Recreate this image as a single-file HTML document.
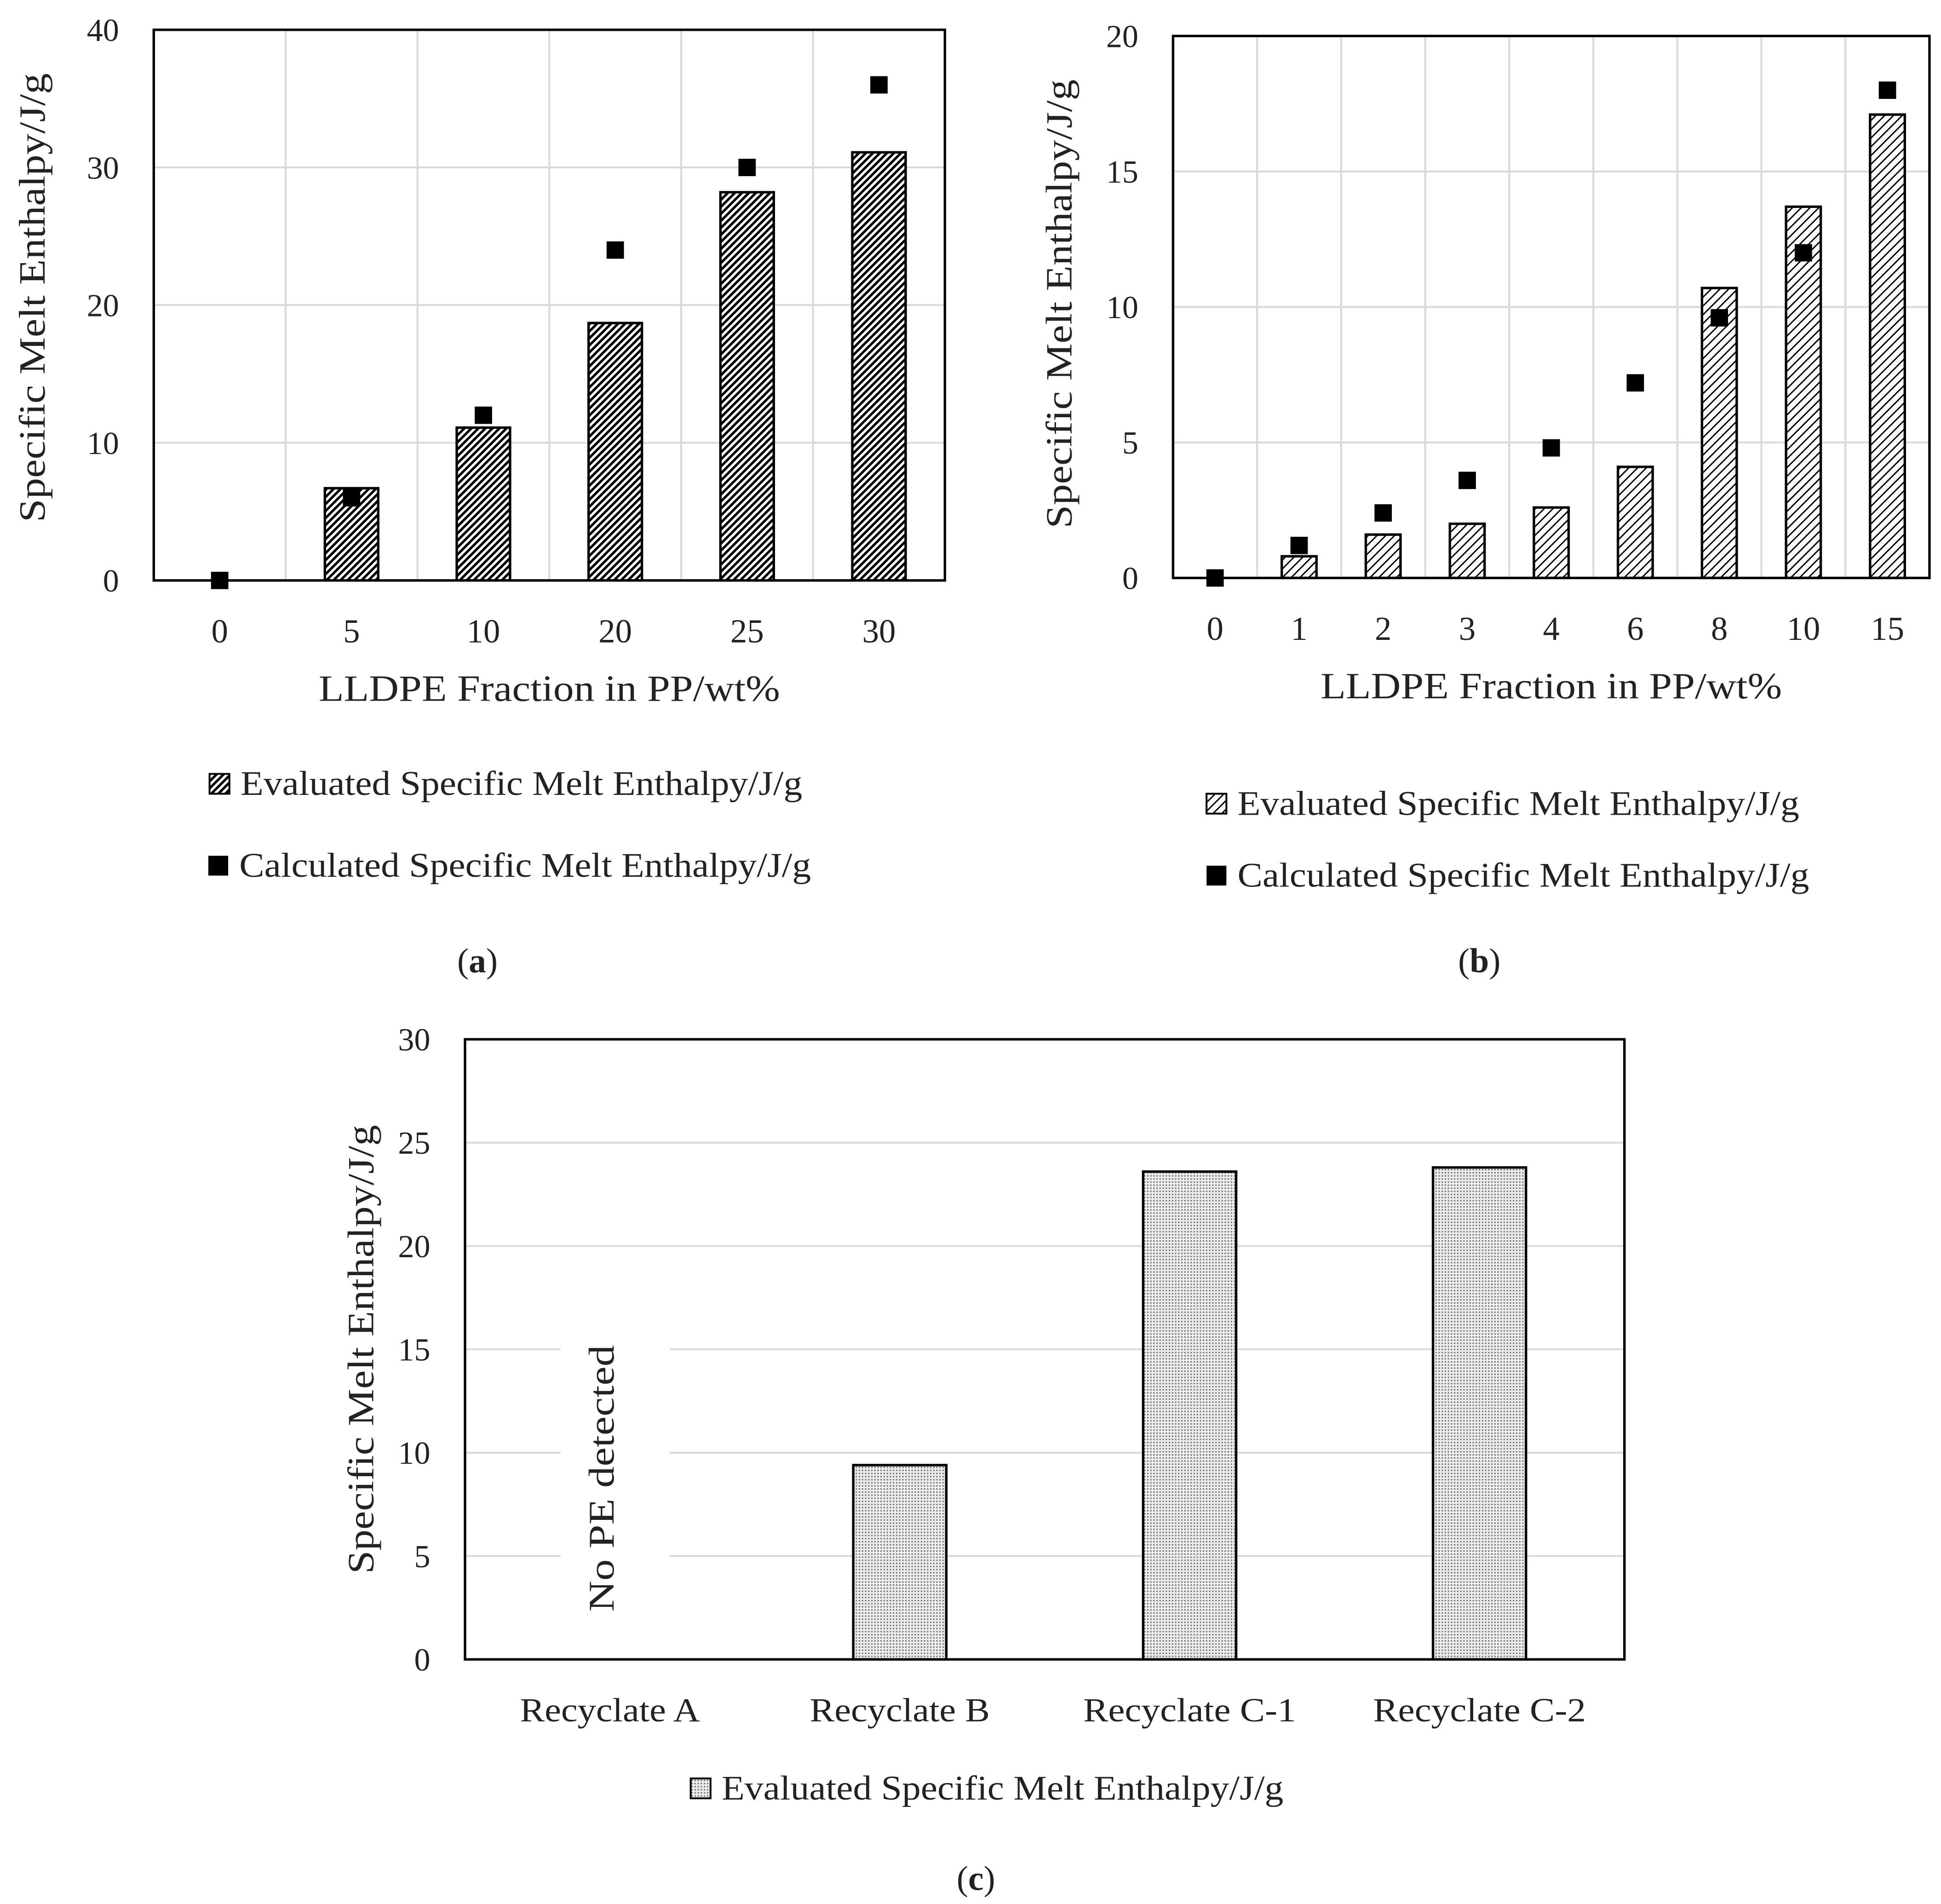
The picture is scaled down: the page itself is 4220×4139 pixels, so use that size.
<!DOCTYPE html>
<html><head><meta charset="utf-8"><style>
html,body{margin:0;padding:0;background:#fff}
svg{display:block}
text{font-family:"Liberation Serif",serif;fill:#222}
</style></head><body>
<svg id="s" width="4220" height="4139" viewBox="0 0 1565.3 1535.2" xmlns="http://www.w3.org/2000/svg">
<defs>
<pattern id="hA" width="4" height="4" patternUnits="userSpaceOnUse" patternTransform="rotate(45)"><rect width="4" height="4" fill="#fff"/><rect width="2" height="4" fill="#000"/></pattern>
<pattern id="hB" width="5" height="5" patternUnits="userSpaceOnUse" patternTransform="rotate(45)"><rect width="5" height="5" fill="#fff"/><rect width="1.1" height="5" fill="#000"/></pattern>
<pattern id="dC" width="2.5" height="2.5" patternUnits="userSpaceOnUse"><rect width="2.5" height="2.5" fill="#eee"/><rect width="1.2" height="1.2" fill="#777"/></pattern>
</defs>
</svg>
<script>
const catsA=["0","5","10","20","25","30"];
const barsA=[0,6.7,11.1,18.7,28.2,31.1];
const ptsA=[0,6,12,24,30,36];
const ticksA=[0,10,20,30,40];
const catsB=["0","1","2","3","4","6","8","10","15"];
const barsB=[0,0.8,1.6,2.0,2.6,4.1,10.7,13.7,17.1];
const ptsB=[0,1.2,2.4,3.6,4.8,7.2,9.6,12,18];
const ticksB=[0,5,10,15,20];
const catsC=["Recyclate A","Recyclate B","Recyclate C-1","Recyclate C-2"];
const barsC=[0,9.4,23.6,23.8];
const ticksC=[0,5,10,15,20,25,30];

const svg=document.getElementById('s');
const NS="http://www.w3.org/2000/svg";
function mk(tag,attrs,parent){const e=document.createElementNS(NS,tag);for(const k in attrs)e.setAttribute(k,attrs[k]);(parent||svg).appendChild(e);return e;}
function txt(str,attrs,parent){const e=mk('text',attrs,parent);e.textContent=str;return e;}
const SA='spacingAndGlyphs';

function panel(o){
  const g=mk('g',{});
  
  
  const n=o.cats.length, cw=(o.R-o.L)/n, max=o.ticks[o.ticks.length-1];
  const y=v=>o.B-(v/max)*(o.B-o.T);
  const x=i=>o.L+cw*(i+0.5);
  o.ticks.forEach(t=>{
    if(t>0&&t<max){
      const gl=mk('line',{x1:o.L,x2:o.R,y1:y(t),y2:y(t),stroke:'#d9d9d9','stroke-width':1.5},g);
      
      
    }
    const tl=txt(String(t),{x:o.L-28,y:y(t)+9,'font-size':26,'text-anchor':'end'},g);
    
    
  });
  if(o.vgrid){for(let i=1;i<n;i++){
    const vl=mk('line',{x1:o.L+cw*i,x2:o.L+cw*i,y1:o.T,y2:o.B,stroke:'#d9d9d9','stroke-width':1.5},g);
    
    
  }}
  if(o.note){
    mk('rect',{x:452,y:y(16),width:88,height:o.B-y(16)-2,fill:'#fff'},g);
    const nt=txt(o.note,{x:0,y:0,'font-size':29,'text-anchor':'middle',textLength:215,lengthAdjust:SA,transform:`translate(${x(0)+3},1192) rotate(-90)`},g);
    
    
  }
  o.bars.forEach((v,i)=>{
    if(v<=0)return;
    const b=mk('rect',{x:x(i)-o.bw/2,y:y(v),width:o.bw,height:o.B-y(v),fill:o.fill,stroke:'#000','stroke-width':2},g);
    
    
  });
  if(o.pts){o.pts.forEach((v,i)=>{
    const p=mk('rect',{x:x(i)-7,y:y(v)-7,width:14,height:14,fill:'#000'},g);
    
    
  });}
  const fr=mk('rect',{x:o.L,y:o.T,width:o.R-o.L,height:o.B-o.T,fill:'none',stroke:'#000','stroke-width':2},g);
  
  
  o.cats.forEach((c,i)=>{
    const a={x:x(i),y:o.B+50,'font-size':27,'text-anchor':'middle'};
    if(c.length>3){a.textLength=c.length*13.2;a.lengthAdjust=SA;}
    const xl=txt(c,a,g);
    
    
  });
  if(o.xtitle){const xt=txt(o.xtitle,{x:(o.L+o.R)/2,y:o.B+97,'font-size':30,'text-anchor':'middle',textLength:372,lengthAdjust:SA},g);
    
    }
  const yt=txt('Specific Melt Enthalpy/J/g',{x:0,y:0,'font-size':30,'text-anchor':'middle',textLength:362,lengthAdjust:SA,transform:`translate(${o.ytx},${o.yty}) rotate(-90)`},g);
  
  
  o.legend.forEach(l=>{
    const sw=mk('rect',{x:l.x-8,y:l.y-8,width:16,height:16,fill:l.fill,stroke:'#000','stroke-width':l.fill==='#000'?0:1.5},g);
    
    
    const lt=txt(l.t,{x:l.x+17,y:l.y+9,'font-size':28,textLength:l.w,lengthAdjust:SA},g);
    
    
  });
  const lab=mk('text',{x:o.lab[0],y:o.lab[1],'font-size':28,'text-anchor':'middle'},g);
  lab.innerHTML='(<tspan font-weight="bold">'+o.lab[2]+'</tspan>)';
  
  
}
panel({name:'panel-a',L:124,T:24,R:762,B:468,cats:catsA,bars:barsA,pts:ptsA,ticks:ticksA,bw:43,fill:'url(#hA)',vgrid:true,
  xtitle:'LLDPE Fraction in PP/wt%',ytx:36,yty:240,
  legend:[{x:177,y:632,fill:'url(#hA)',t:'Evaluated Specific Melt Enthalpy/J/g',w:453},{x:176,y:698,fill:'#000',t:'Calculated Specific Melt Enthalpy/J/g',w:461}],lab:[385,784,'a']});
panel({name:'panel-b',L:946,T:29,R:1556,B:466,cats:catsB,bars:barsB,pts:ptsB,ticks:ticksB,bw:28,fill:'url(#hB)',vgrid:true,
  xtitle:'LLDPE Fraction in PP/wt%',ytx:864,yty:245,
  legend:[{x:981,y:648,fill:'url(#hB)',t:'Evaluated Specific Melt Enthalpy/J/g',w:453},{x:981,y:706,fill:'#000',t:'Calculated Specific Melt Enthalpy/J/g',w:461}],lab:[1193,784,'b']});
panel({name:'panel-c',L:375,T:838,R:1310,B:1338,cats:catsC,bars:barsC,ticks:ticksC,bw:75,fill:'url(#dC)',vgrid:false,
  ytx:301,yty:1088,note:'No PE detected',
  legend:[{x:565,y:1442,fill:'url(#dC)',t:'Evaluated Specific Melt Enthalpy/J/g',w:453}],lab:[787,1524,'c']});
</script>
</body></html>
